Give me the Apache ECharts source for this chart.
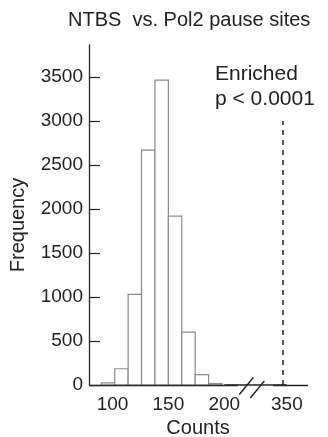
<!DOCTYPE html>
<html>
<head>
<meta charset="utf-8">
<script src="https://cdn.jsdelivr.net/npm/echarts@6/dist/echarts.min.js"></script>
<style>
html,body{margin:0;padding:0;background:#fff;}
#chart{width:328px;height:437px;}
</style>
</head>
<body>
<div id="chart"></div>
<script>
// ---- data ----
const chartTitle = 'NTBS  vs. Pol2 pause sites';
const binStarts = [90, 102, 114, 126, 138, 150, 162, 174, 186];
const binWidth = 12;
const frequencies = [25, 185, 1030, 2670, 3465, 1920, 600, 117, 16];
const xTickValues = [100, 150, 200, 350];
const yTickValues = [0, 500, 1000, 1500, 2000, 2500, 3000, 3500];
const observedCount = 346;
const observedLineTop = 3000;
const annotationLines = ['Enriched', 'p < 0.0001'];
const xAxisName = 'Counts';
const yAxisName = 'Frequency';
const xBreak = { start: 212, end: 338 };

const FONT = "'Liberation Sans', Arial, sans-serif";
const TXT = '#222';

const histData = binStarts.map((s, i) => [s, s + binWidth, frequencies[i]]);

const chart = echarts.init(document.getElementById('chart'), null, { renderer: 'canvas' });

const option = {
  backgroundColor: '#fff',
  animation: false,
  textStyle: { fontFamily: FONT },
  title: [
    {
      text: chartTitle, left: 68, top: 10, padding: 0,
      textStyle: { fontFamily: FONT, fontSize: 20, fontWeight: 'normal', color: TXT }
    },
    {
      text: annotationLines.join('\n'), left: 215, top: 62, padding: 0,
      textStyle: { fontFamily: FONT, fontSize: 21, fontWeight: 'normal', color: TXT, lineHeight: 25 }
    }
  ],
  grid: { left: 89, right: 21, top: 45, bottom: 52, containLabel: false, outerBoundsMode: 'none' },
  xAxis: {
    type: 'value',
    min: 79, max: 368,
    z: 3,
    breaks: [{ start: xBreak.start, end: xBreak.end, gap: 32 }],
    breakArea: { show: false },
    splitLine: { show: false },
    axisTick: { show: false },
    axisLine: { show: true, lineStyle: { color: '#222', width: 1.3 } },
    axisLabel: {
      customValues: xTickValues, margin: 10,
      formatter: v => String(v),
      fontFamily: FONT, fontSize: 19, color: TXT
    },
    name: xAxisName, nameLocation: 'middle', nameGap: 31,
    nameTextStyle: { fontFamily: FONT, fontSize: 20, color: TXT }
  },
  yAxis: {
    type: 'value',
    min: 0, max: 3865,
    z: 3,
    splitLine: { show: false },
    axisLine: { show: true, lineStyle: { color: '#222', width: 1.3 } },
    axisTick: { show: true, inside: true, length: 11, customValues: yTickValues, lineStyle: { color: '#222', width: 1.2 } },
    axisLabel: {
      customValues: yTickValues, margin: 6,
      formatter: v => String(v),
      fontFamily: FONT, fontSize: 19, color: TXT
    },
    name: yAxisName, nameLocation: 'middle', nameGap: 61,
    nameTextStyle: { fontFamily: FONT, fontSize: 20, color: TXT, padding: [0, 20, 0, 0] }
  },
  series: [
    {
      type: 'custom',
      z: 2,
      data: histData,
      encode: { x: [0, 1], y: 2 },
      renderItem: function (params, api) {
        const p0 = api.coord([api.value(0), 0]);
        const p1 = api.coord([api.value(1), api.value(2)]);
        return {
          type: 'rect',
          shape: { x: p0[0], y: p1[1], width: p1[0] - p0[0], height: p0[1] - p1[1] },
          style: { fill: '#fff', stroke: '#8a8a8a', lineWidth: 1.2 }
        };
      },
      markLine: {
        silent: true,
        symbol: ['none', 'none'],
        label: { show: false },
        lineStyle: { color: '#222', type: [5, 5], width: 1.5 },
        data: [[{ coord: [observedCount, 0] }, { coord: [observedCount, observedLineTop] }]]
      }
    }
  ]
};

chart.setOption(option);

// axis-break slashes and continuous axis line, placed from the axis scale
const pxStart = chart.convertToPixel({ xAxisIndex: 0 }, xTickValues[2]);
const pxEnd = chart.convertToPixel({ xAxisIndex: 0 }, xTickValues[3]);
const py0 = chart.convertToPixel({ yAxisIndex: 0 }, 0);
const cx = pxStart + (pxEnd - pxStart) * 0.44;
const slash = (mx, my) => ({
  type: 'line',
  shape: { x1: mx - 7, y1: my + 8.5, x2: mx + 7, y2: my - 8.5 },
  style: { stroke: '#222', lineWidth: 1.4 },
  z: 10
});
chart.setOption({
  graphic: [
    { type: 'line', shape: { x1: pxStart, y1: py0, x2: pxEnd, y2: py0 }, style: { stroke: '#222', lineWidth: 1.3 }, z: 9 },
    slash(cx - 5.5, py0 + 1),
    slash(cx + 5.5, py0 + 4.5)
  ]
});
</script>
</body>
</html>
